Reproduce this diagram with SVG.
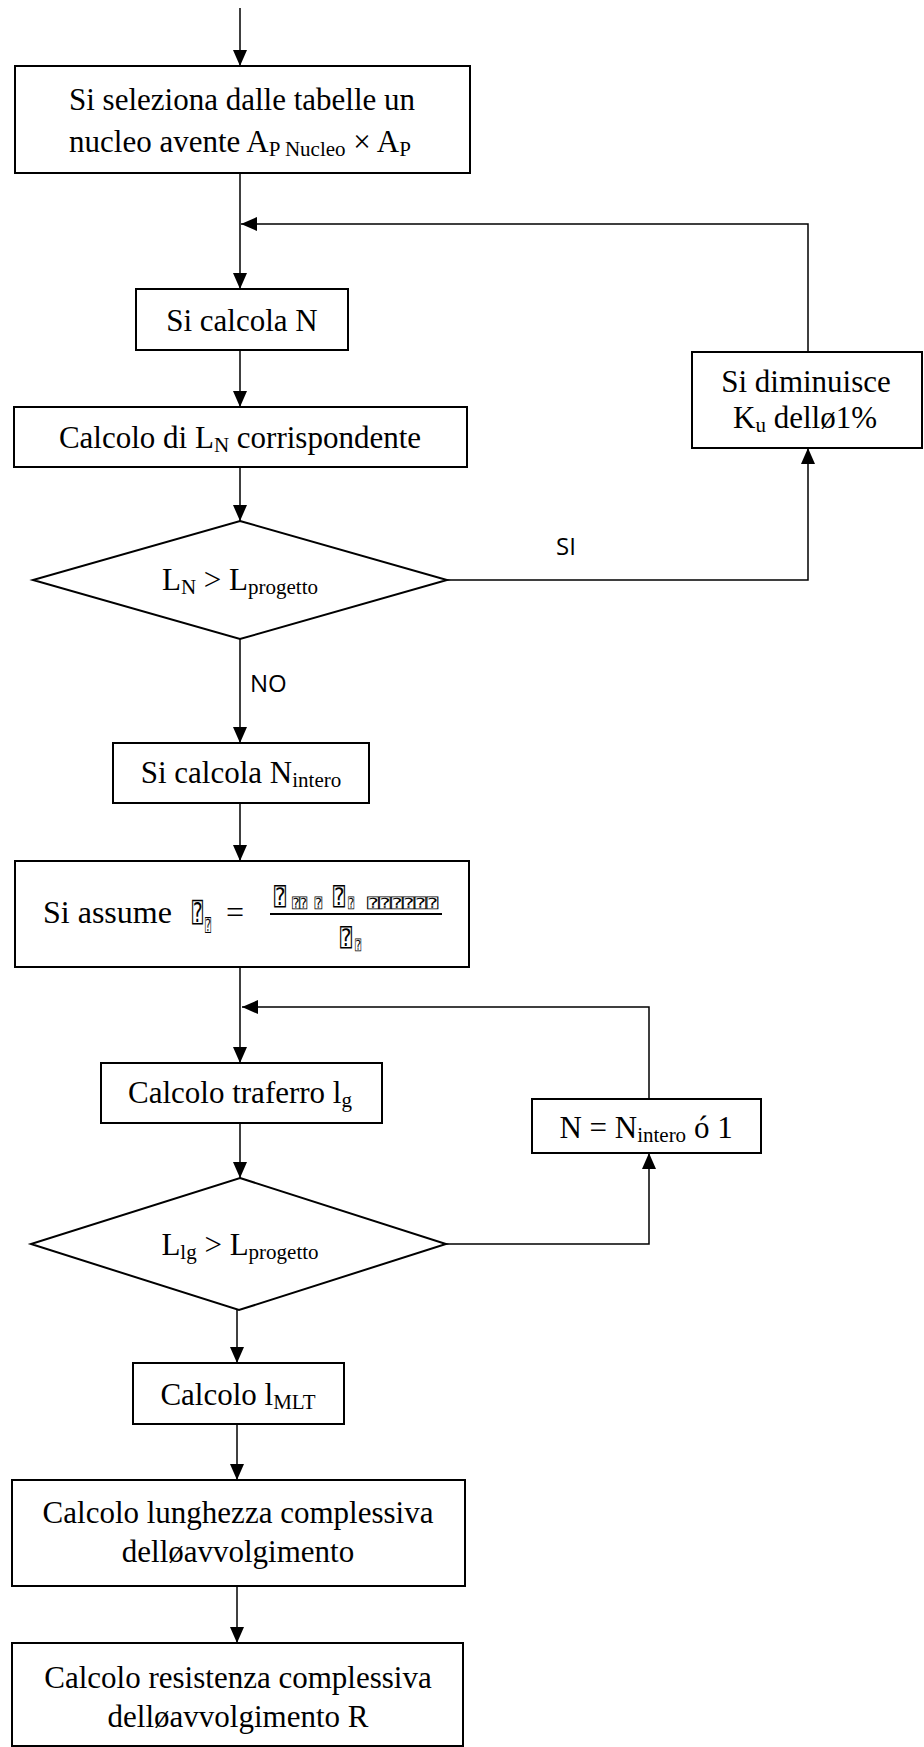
<svg xmlns="http://www.w3.org/2000/svg" width="924" height="1747" viewBox="0 0 924 1747">
<style>
.box{fill:#fff;stroke:#000;stroke-width:2}
.con{fill:none;stroke:#000;stroke-width:1.5}
.t{font-family:"Liberation Serif","Times New Roman",serif;font-size:31px;fill:#000}
.sub{font-size:21px}
.lbl{font-family:"Open Sans","Liberation Sans",sans-serif;font-size:24px;fill:#000}
.c{font-family:"Liberation Serif",serif;font-size:32px;fill:#000}
.tb{font-family:"DejaVu Sans Mono","DejaVu Sans",monospace;fill:#000}
</style>
<defs>
<marker id="ah" markerWidth="16" markerHeight="14" refX="16" refY="7" orient="auto" markerUnits="userSpaceOnUse"><path d="M0,0 L16,7 L0,14 z" fill="#000"/></marker>
</defs>
<rect width="924" height="1747" fill="#fff"/>
<g id="connectors">
<path class="con" d="M240,8 V66" marker-end="url(#ah)"/>
<path class="con" d="M240,173 V289" marker-end="url(#ah)"/>
<path class="con" d="M808,352 V224 H241" marker-end="url(#ah)"/>
<path class="con" d="M240,350 V407" marker-end="url(#ah)"/>
<path class="con" d="M240,467 V521" marker-end="url(#ah)"/>
<path class="con" d="M447,580 H808 V448" marker-end="url(#ah)"/>
<path class="con" d="M240,639 V743" marker-end="url(#ah)"/>
<path class="con" d="M240,803 V861" marker-end="url(#ah)"/>
<path class="con" d="M240,967 V1063" marker-end="url(#ah)"/>
<path class="con" d="M649,1099 V1007 H242" marker-end="url(#ah)"/>
<path class="con" d="M240,1123 V1178" marker-end="url(#ah)"/>
<path class="con" d="M446,1244 H649 V1153" marker-end="url(#ah)"/>
<path class="con" d="M237,1310 V1363" marker-end="url(#ah)"/>
<path class="con" d="M237,1424 V1480" marker-end="url(#ah)"/>
<path class="con" d="M237,1586 V1643" marker-end="url(#ah)"/>
<text class="lbl" x="556" y="555">SI</text>
<text class="lbl" x="250" y="692">NO</text>
</g>
<g id="n1">
<rect class="box" x="15" y="66" width="455" height="107"/>
<text class="t" x="242" y="110" text-anchor="middle">Si seleziona dalle tabelle un</text>
<text class="t" x="240" y="152" text-anchor="middle" xml:space="preserve">nucleo avente A<tspan class="sub" dy="4">P Nucleo</tspan><tspan dy="-4"> × A</tspan><tspan class="sub" dy="4">P</tspan></text>
</g>
<g id="n2">
<rect class="box" x="136" y="289" width="212" height="61"/>
<text class="t" x="242" y="331" text-anchor="middle">Si calcola N</text>
</g>
<g id="n3">
<rect class="box" x="14" y="407" width="453" height="60"/>
<text class="t" x="240" y="448" text-anchor="middle" xml:space="preserve">Calcolo di L<tspan class="sub" dy="4">N</tspan><tspan dy="-4"> corrispondente</tspan></text>
</g>
<g id="n4">
<rect class="box" x="692" y="352" width="230" height="96"/>
<text class="t" x="806" y="392" text-anchor="middle">Si diminuisce</text>
<text class="t" x="805" y="428" text-anchor="middle" xml:space="preserve">K<tspan class="sub" dy="4">u</tspan><tspan dy="-4"> dellø1%</tspan></text>
</g>
<g id="d1">
<polygon class="box" points="240,521 447,580 240,639 33,580"/>
<text class="t" x="240" y="590" text-anchor="middle" xml:space="preserve">L<tspan class="sub" dy="4">N</tspan><tspan dy="-4"> &gt; L</tspan><tspan class="sub" dy="4">progetto</tspan></text>
</g>
<g id="n5">
<rect class="box" x="113" y="743" width="256" height="60"/>
<text class="t" x="241" y="783" text-anchor="middle">Si calcola N<tspan class="sub" dy="4">intero</tspan></text>
</g>
<g id="n6">
<rect class="box" x="15" y="861" width="454" height="106"/>
<text class="c" x="43" y="923">Si assume</text>
<text class="tb" x="192" y="922" font-size="27" textLength="11" lengthAdjust="spacingAndGlyphs">⍰</text>
<text class="tb" x="205" y="931" font-size="17" textLength="6" lengthAdjust="spacingAndGlyphs">⍰</text>
<text class="c" x="226" y="923">=</text>
<line x1="270" y1="914" x2="442" y2="914" stroke="#000" stroke-width="2"/>
<text class="tb" x="274" y="905" font-size="24" textLength="12" lengthAdjust="spacingAndGlyphs">⍰</text>
<text class="tb" x="292" y="908" font-size="14" textLength="30" lengthAdjust="spacingAndGlyphs">⍰⍰ ⍰</text>
<text class="tb" x="333" y="905" font-size="24" textLength="12" lengthAdjust="spacingAndGlyphs">⍰</text>
<text class="tb" x="348" y="908" font-size="14" textLength="6" lengthAdjust="spacingAndGlyphs">⍰</text>
<text class="tb" x="367" y="908" font-size="14" textLength="71" lengthAdjust="spacingAndGlyphs">⍰⍰⍰⍰⍰⍰</text>
<text class="tb" x="340" y="946" font-size="24" textLength="12" lengthAdjust="spacingAndGlyphs">⍰</text>
<text class="tb" x="355" y="950" font-size="14" textLength="6" lengthAdjust="spacingAndGlyphs">⍰</text>
</g>
<g id="n7">
<rect class="box" x="101" y="1063" width="281" height="60"/>
<text class="t" x="240" y="1103" text-anchor="middle">Calcolo traferro l<tspan class="sub" dy="4">g</tspan></text>
</g>
<g id="n8">
<rect class="box" x="532" y="1099" width="229" height="54"/>
<text class="t" x="646" y="1138" text-anchor="middle" xml:space="preserve">N = N<tspan class="sub" dy="4">intero</tspan><tspan dy="-4"> ó 1</tspan></text>
</g>
<g id="d2">
<polygon class="box" points="240,1178 446,1244 239,1310 31,1244"/>
<text class="t" x="240" y="1255" text-anchor="middle" xml:space="preserve">L<tspan class="sub" dy="4">lg</tspan><tspan dy="-4"> &gt; L</tspan><tspan class="sub" dy="4">progetto</tspan></text>
</g>
<g id="n9">
<rect class="box" x="133" y="1363" width="211" height="61"/>
<text class="t" x="238" y="1405" text-anchor="middle">Calcolo l<tspan class="sub" dy="4">MLT</tspan></text>
</g>
<g id="n10">
<rect class="box" x="12" y="1480" width="453" height="106"/>
<text class="t" x="238" y="1523" text-anchor="middle">Calcolo lunghezza complessiva</text>
<text class="t" x="238" y="1562" text-anchor="middle">delløavvolgimento</text>
</g>
<g id="n11">
<rect class="box" x="12" y="1643" width="451" height="103"/>
<text class="t" x="238" y="1688" text-anchor="middle">Calcolo resistenza complessiva</text>
<text class="t" x="238" y="1727" text-anchor="middle">delløavvolgimento R</text>
</g>
</svg>
